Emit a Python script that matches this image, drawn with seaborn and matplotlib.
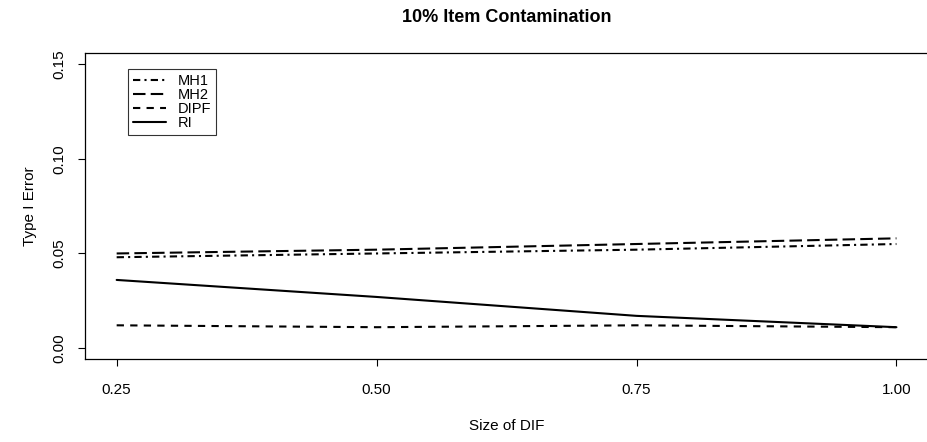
import numpy as np
import pandas as pd
import matplotlib
matplotlib.use("Agg")
import matplotlib.pyplot as plt
import seaborn as sns

# Type I error rates by size of DIF
dif_size = [0.25, 0.50, 0.75, 1.00]
mh1 = [0.048, 0.050, 0.052, 0.055]
mh2 = [0.050, 0.052, 0.055, 0.058]
dipf = [0.012, 0.011, 0.012, 0.011]
ri = [0.036, 0.027, 0.017, 0.011]
methods = ["MH1", "MH2", "DIPF", "RI"]

df = pd.DataFrame({
    "Size of DIF": dif_size * 4,
    "Type I Error": mh1 + mh2 + dipf + ri,
    "Method": np.repeat(methods, len(dif_size)),
})

sns.set_style("white")
plt.rcParams["font.family"] = ["Liberation Sans", "DejaVu Sans"]
plt.rcParams["text.color"] = "black"
plt.rcParams["axes.labelcolor"] = "black"
plt.rcParams["xtick.color"] = "black"
plt.rcParams["ytick.color"] = "black"

fig = plt.figure(figsize=(9.28, 4.42), dpi=100)
ax = fig.add_axes([0.0921, 0.187, 0.9075, 0.693])

dash_styles = {
    "MH1": (3.5, 2, 1, 2),
    "MH2": (6, 2.5),
    "DIPF": (3.5, 3),
    "RI": "",
}
sns.lineplot(data=df, x="Size of DIF", y="Type I Error", style="Method",
             style_order=methods, dashes=dash_styles, color="black",
             linewidth=1.5, ax=ax, legend=True)

ax.set_xlim(0.22, 1.03)
ax.set_ylim(-0.006, 0.156)
ax.set_xticks(dif_size)
ax.set_xticklabels(["0.25", "0.50", "0.75", "1.00"])
ax.set_yticks([0.00, 0.05, 0.10, 0.15])
ax.set_yticklabels(["0.00", "0.05", "0.10", "0.15"], rotation=90, va="center")
ax.tick_params(axis="both", direction="out", length=5, width=0.8,
               color="black", labelsize=11, left=True, bottom=True)
ax.tick_params(axis="x", pad=12)
ax.tick_params(axis="y", pad=9)
for sp in ax.spines.values():
    sp.set_color("black")
    sp.set_linewidth(0.9)

ax.set_xlabel("Size of DIF", fontsize=11, labelpad=16)
ax.set_ylabel("Type I Error", fontsize=11, labelpad=11)
ax.set_title("10% Item Contamination", fontsize=13, fontweight="bold", pad=22)

leg = ax.legend(loc="upper left", bbox_to_anchor=(0.050, 0.948),
                borderaxespad=0, fontsize=10.5, handlelength=2.3,
                handletextpad=0.8, labelspacing=0.0, borderpad=0.35,
                fancybox=False, frameon=True, title=None)
leg.get_frame().set_edgecolor("black")
leg.get_frame().set_linewidth(0.8)

fig.savefig("out.png", dpi=100)
